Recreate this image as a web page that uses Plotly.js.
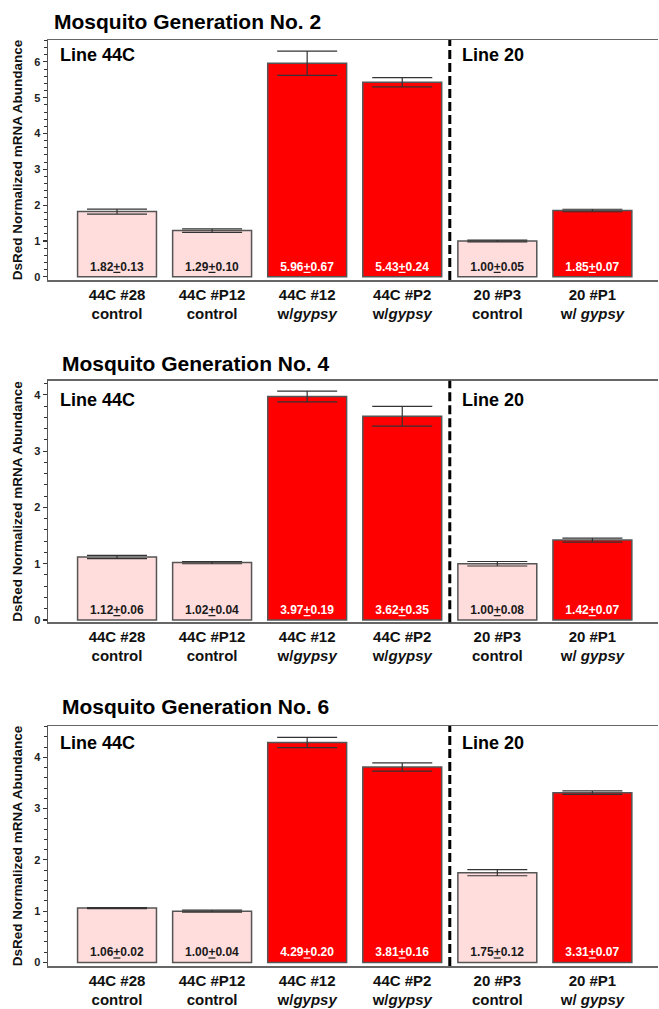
<!DOCTYPE html>
<html>
<head>
<meta charset="utf-8">
<script src="https://cdn.plot.ly/plotly-3.0.1.min.js"></script>
<style>html,body{margin:0;padding:0;background:#fff;}#chart{width:659px;height:1009px;}</style>
</head>
<body>
<div id="chart"></div>
<script>
// ---- data ----
const categoryLabels = ['44C #28<br>control', '44C #P12<br>control', '44C #12<br>w/<i>gypsy</i>', '44C #P2<br>w/<i>gypsy</i>', '20 #P3<br>control', '20 #P1<br>w/ <i>gypsy</i>'];
const categoryPos = [0, 1, 2, 3, 4, 5];
const treatment = ['control', 'control', 'gypsy', 'gypsy', 'control', 'gypsy'];

const gen2Mean = [1.82, 1.29, 5.96, 5.43, 1.00, 1.85];
const gen2SD   = [0.13, 0.10, 0.67, 0.24, 0.05, 0.07];
const gen2Err  = [0.07, 0.05, 0.34, 0.13, 0.025, 0.035];

const gen4Mean = [1.12, 1.02, 3.97, 3.62, 1.00, 1.42];
const gen4SD   = [0.06, 0.04, 0.19, 0.35, 0.08, 0.07];
const gen4Err  = [0.03, 0.02, 0.095, 0.175, 0.04, 0.035];

const gen6Mean = [1.06, 1.00, 4.29, 3.81, 1.75, 3.31];
const gen6SD   = [0.02, 0.04, 0.20, 0.16, 0.12, 0.07];
const gen6Err  = [0.01, 0.02, 0.10, 0.08, 0.06, 0.035];

const panelTitles = ['Mosquito Generation No. 2', 'Mosquito Generation No. 4', 'Mosquito Generation No. 6'];
const yTitle = 'DsRed Normalized mRNA Abundance';

// ---- styling / layout ----
const W = 659, H = 1009;
const FONT = 'Liberation Sans, Arial, Helvetica, sans-serif';
const PINK = '#FFDDDD', RED = '#FF0000';
const px = v => v / W;
const py = v => (H - v) / H;

const panels = [
  {mean: gen2Mean, sd: gen2SD, err: gen2Err, top: 40, bottom: 280, yr: [-0.09, 6.61], titleX: 52, titleY: 21.5, lineY: 55},
  {mean: gen4Mean, sd: gen4SD, err: gen4Err, top: 380.7, bottom: 622.3, yr: [-0.04, 4.25], titleX: 60, titleY: 363, lineY: 400.5},
  {mean: gen6Mean, sd: gen6SD, err: gen6Err, top: 726, bottom: 966, yr: [-0.07, 4.61], titleX: 60, titleY: 706.5, lineY: 743}
];
const xRange = [-0.726, 5.69];
const xDomain = [px(48), px(658)];

const data = [];
const layout = {
  width: W, height: H,
  margin: {l: 0, r: 0, t: 0, b: 0, pad: 0},
  paper_bgcolor: '#fff', plot_bgcolor: '#fff',
  showlegend: false,
  font: {family: FONT, color: '#111'},
  annotations: [], shapes: []
};

panels.forEach((p, i) => {
  const n = i + 1;
  const xs = n === 1 ? '' : String(n);
  const xName = 'x' + xs, yName = 'y' + xs;
  const colors = treatment.map(t => t === 'gypsy' ? RED : PINK);
  const textColors = treatment.map(t => t === 'gypsy' ? '#ffffff' : '#1a1a1a');
  data.push({
    type: 'bar', x: categoryPos, y: p.mean, xaxis: xName, yaxis: yName,
    width: 0.83,
    marker: {color: colors, line: {color: '#555', width: 1.5}},
    error_y: {type: 'data', array: p.err, visible: true, color: '#333', thickness: 1.2, width: 30},
    text: p.mean.map((m, k) => '<b>' + m.toFixed(2) + '<u>+</u>' + p.sd[k].toFixed(2) + '</b>'),
    textposition: 'inside', insidetextanchor: 'start', textangle: 0, constraintext: 'none',
    insidetextfont: {family: FONT, size: 12, color: textColors},
    cliponaxis: false, hoverinfo: 'skip'
  });
  const yDom = [py(p.bottom), py(p.top)];
  layout['xaxis' + xs] = {
    domain: xDomain, range: xRange, anchor: yName, fixedrange: true,
    tickvals: categoryPos, ticktext: categoryLabels, ticks: '',
    tickfont: {family: FONT, size: 15, color: '#111', weight: 'bold'},
    showline: true, linecolor: '#666', linewidth: 1.5, mirror: true,
    showgrid: false, zeroline: false, ticklabelstandoff: 0
  };
  layout['yaxis' + xs] = {
    domain: yDom, range: p.yr, anchor: xName, fixedrange: true,
    dtick: 1, tick0: 0, ticks: 'outside', ticklen: 4, tickwidth: 1.2, tickcolor: '#333',
    minor: {dtick: 0.2, tick0: 0, ticks: 'outside', ticklen: 3, tickwidth: 1, tickcolor: '#333', showgrid: false},
    tickfont: {family: FONT, size: 11, color: '#222', weight: 'bold'},
    showline: true, linecolor: '#555', linewidth: 1.5,
    showgrid: false, zeroline: false,
    title: {text: '<b>' + yTitle + '</b>', font: {family: FONT, size: 13.5, color: '#111'}, standoff: 8}
  };
  // overlay axes: crossing tick halves on left, gray ticks on right, and the tick at 2.5 top/bottom
  const ovl = 3 + n, ovr = 6 + n, ovb = 3 + n, ovt = 6 + n;
  layout['yaxis' + ovl] = {
    overlaying: yName, anchor: xName, range: p.yr, side: 'left', fixedrange: true,
    dtick: 1, tick0: 0, ticks: 'inside', ticklen: 4, tickwidth: 1.2, tickcolor: '#333',
    minor: {dtick: 0.2, tick0: 0, ticks: 'inside', ticklen: 3, tickwidth: 1, tickcolor: '#333', showgrid: false},
    showticklabels: false, showline: false, showgrid: false, zeroline: false
  };
  layout['yaxis' + ovr] = {
    overlaying: yName, anchor: xName, range: p.yr, side: 'right', fixedrange: true,
    dtick: 1, tick0: 0, ticks: 'inside', ticklen: 4, tickwidth: 1, tickcolor: '#aaa',
    showticklabels: false, showline: false, showgrid: false, zeroline: false
  };
  layout['xaxis' + ovb] = {
    overlaying: xName, anchor: yName, range: xRange, side: 'bottom', fixedrange: true,
    tickvals: [2.5], ticks: 'outside', ticklen: 4, tickwidth: 1, tickcolor: '#555',
    showticklabels: false, showline: false, showgrid: false, zeroline: false
  };
  layout['xaxis' + ovt] = {
    overlaying: xName, anchor: yName, range: xRange, side: 'top', fixedrange: true,
    tickvals: [2.5], ticks: 'inside', ticklen: 4, tickwidth: 1, tickcolor: '#555',
    showticklabels: false, showline: false, showgrid: false, zeroline: false
  };
  // divider between lines
  layout.shapes.push({
    type: 'line', xref: xName, yref: yName + ' domain', x0: 3.5, x1: 3.5, y0: 0, y1: 1,
    line: {color: '#000', width: 3, dash: '9px,4px'}, layer: 'above'
  });
  // texts
  layout.annotations.push({
    text: '<b>' + panelTitles[i] + '</b>', xref: 'paper', yref: 'paper',
    x: px(p.titleX), y: py(p.titleY), xanchor: 'left', yanchor: 'middle', showarrow: false,
    font: {family: FONT, size: 21, color: '#000'}
  });
  layout.annotations.push({
    text: '<b>Line 44C</b>', xref: 'paper', yref: 'paper',
    x: px(58), y: py(p.lineY), xanchor: 'left', yanchor: 'middle', showarrow: false,
    font: {family: FONT, size: 18, color: '#000'}
  });
  layout.annotations.push({
    text: '<b>Line 20</b>', xref: 'paper', yref: 'paper',
    x: px(460), y: py(p.lineY), xanchor: 'left', yanchor: 'middle', showarrow: false,
    font: {family: FONT, size: 18, color: '#000'}
  });
});

Plotly.newPlot('chart', data, layout, {staticPlot: true, displayModeBar: false});
</script>
</body>
</html>
